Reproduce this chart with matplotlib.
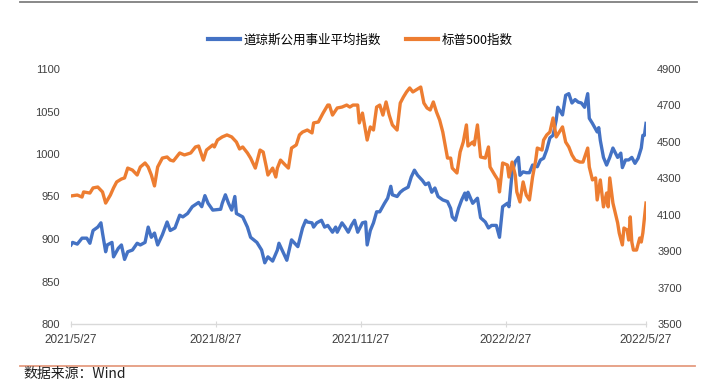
import matplotlib
matplotlib.use("agg")
import matplotlib.pyplot as plt
from matplotlib import font_manager
from matplotlib.lines import Line2D
import pandas as pd

# 道琼斯公用事业平均指数 (left axis)
dji_util_dates = [
    "2021-05-27", "2021-05-28", "2021-05-31", "2021-06-03", "2021-06-06", "2021-06-08",
    "2021-06-10", "2021-06-13", "2021-06-15", "2021-06-16", "2021-06-18", "2021-06-19",
    "2021-06-22", "2021-06-23", "2021-06-26", "2021-06-28", "2021-06-30", "2021-07-02",
    "2021-07-05", "2021-07-08", "2021-07-10", "2021-07-13", "2021-07-15", "2021-07-17",
    "2021-07-19", "2021-07-21", "2021-07-24", "2021-07-27", "2021-07-29", "2021-08-01",
    "2021-08-04", "2021-08-06", "2021-08-09", "2021-08-12", "2021-08-16", "2021-08-18",
    "2021-08-20", "2021-08-22", "2021-08-25", "2021-08-30", "2021-08-31", "2021-09-02",
    "2021-09-04", "2021-09-06", "2021-09-08", "2021-09-09", "2021-09-13", "2021-09-16",
    "2021-09-18", "2021-09-22", "2021-09-25", "2021-09-27", "2021-09-29", "2021-10-02",
    "2021-10-05", "2021-10-06", "2021-10-09", "2021-10-11", "2021-10-14", "2021-10-16",
    "2021-10-18", "2021-10-21", "2021-10-23", "2021-10-24", "2021-10-27", "2021-10-28",
    "2021-10-30", "2021-11-02", "2021-11-04", "2021-11-06", "2021-11-09", "2021-11-11",
    "2021-11-12", "2021-11-15", "2021-11-17", "2021-11-19", "2021-11-21", "2021-11-23",
    "2021-11-25", "2021-11-28", "2021-11-30", "2021-12-01", "2021-12-03", "2021-12-05",
    "2021-12-07", "2021-12-09", "2021-12-12", "2021-12-14", "2021-12-16", "2021-12-17",
    "2021-12-20", "2021-12-22", "2021-12-24", "2021-12-27", "2021-12-29", "2021-12-31",
    "2022-01-02", "2022-01-05", "2022-01-07", "2022-01-09", "2022-01-11", "2022-01-13",
    "2022-01-15", "2022-01-18", "2022-01-21", "2022-01-23", "2022-01-24", "2022-01-26",
    "2022-01-28", "2022-01-30", "2022-02-01", "2022-02-02", "2022-02-03", "2022-02-06",
    "2022-02-07", "2022-02-09", "2022-02-11", "2022-02-14", "2022-02-16", "2022-02-18",
    "2022-02-21", "2022-02-23", "2022-02-25", "2022-02-28", "2022-03-01", "2022-03-03",
    "2022-03-05", "2022-03-07", "2022-03-08", "2022-03-10", "2022-03-12", "2022-03-14",
    "2022-03-16", "2022-03-19", "2022-03-21", "2022-03-23", "2022-03-25", "2022-03-27",
    "2022-03-29", "2022-03-31", "2022-04-01", "2022-04-04", "2022-04-06", "2022-04-08",
    "2022-04-10", "2022-04-12", "2022-04-14", "2022-04-16", "2022-04-18", "2022-04-20",
    "2022-04-21", "2022-04-23", "2022-04-26", "2022-04-27", "2022-04-28", "2022-04-30",
    "2022-05-02", "2022-05-04", "2022-05-06", "2022-05-09", "2022-05-11", "2022-05-12",
    "2022-05-14", "2022-05-16", "2022-05-18", "2022-05-20", "2022-05-22", "2022-05-24",
    "2022-05-25", "2022-05-26", "2022-05-27",
]
dji_util_values = [
    893, 896, 894, 901, 901, 895,
    910, 914, 919, 907, 885, 893,
    896, 879, 889, 893, 876, 885,
    887, 895, 893, 896, 914, 902,
    907, 893, 905, 920, 910, 913,
    928, 926, 930, 938, 943, 938,
    951, 942, 934, 935, 942, 952,
    942, 934, 950, 930, 926, 914,
    902, 896, 887, 872, 879, 874,
    887, 895, 883, 875, 899, 895,
    891, 913, 922, 920, 919, 914,
    919, 922, 914, 916, 908, 914,
    908, 919, 914, 908, 916, 922,
    908, 919, 920, 893, 910, 919,
    932, 932, 942, 948, 962, 952,
    950, 955, 958, 961, 973, 981,
    975, 969, 964, 966, 955, 960,
    950, 946, 944, 936, 926, 922,
    936, 946, 954, 946, 955, 942,
    944, 948, 925, 920, 913, 916,
    916, 902, 938, 942, 938, 978,
    991, 996, 975, 979, 978, 978,
    987, 985, 993, 995, 1005, 1019,
    1022, 1040, 1055, 1046, 1069, 1071,
    1060, 1064, 1061, 1060, 1055, 1071,
    1042, 1036, 1026, 1031, 1016, 996,
    987, 996, 1007, 996, 1001, 984,
    993, 993, 996, 989, 995, 1007,
    1022, 1022, 1036,
]

# 标普500指数 (right axis)
spx_dates = [
    "2021-05-27", "2021-05-31", "2021-06-03", "2021-06-04", "2021-06-08", "2021-06-10",
    "2021-06-13", "2021-06-16", "2021-06-18", "2021-06-21", "2021-06-23", "2021-06-25",
    "2021-06-28", "2021-06-30", "2021-07-02", "2021-07-05", "2021-07-08", "2021-07-10",
    "2021-07-13", "2021-07-15", "2021-07-17", "2021-07-19", "2021-07-21", "2021-07-24",
    "2021-07-27", "2021-07-29", "2021-07-31", "2021-08-02", "2021-08-04", "2021-08-07",
    "2021-08-11", "2021-08-14", "2021-08-16", "2021-08-19", "2021-08-21", "2021-08-25",
    "2021-08-26", "2021-08-28", "2021-08-31", "2021-09-03", "2021-09-06", "2021-09-09",
    "2021-09-11", "2021-09-13", "2021-09-16", "2021-09-18", "2021-09-21", "2021-09-24",
    "2021-09-26", "2021-09-28", "2021-09-29", "2021-10-02", "2021-10-04", "2021-10-05",
    "2021-10-07", "2021-10-10", "2021-10-12", "2021-10-14", "2021-10-17", "2021-10-19",
    "2021-10-21", "2021-10-24", "2021-10-27", "2021-10-28", "2021-10-31", "2021-11-03",
    "2021-11-06", "2021-11-07", "2021-11-09", "2021-11-12", "2021-11-15", "2021-11-18",
    "2021-11-20", "2021-11-22", "2021-11-25", "2021-11-26", "2021-11-28", "2021-12-01",
    "2021-12-03", "2021-12-05", "2021-12-07", "2021-12-09", "2021-12-11", "2021-12-13",
    "2021-12-15", "2021-12-17", "2021-12-20", "2021-12-22", "2021-12-24", "2021-12-26",
    "2021-12-28", "2021-12-30", "2022-01-02", "2022-01-04", "2022-01-06", "2022-01-08",
    "2022-01-10", "2022-01-12", "2022-01-14", "2022-01-16", "2022-01-18", "2022-01-21",
    "2022-01-23", "2022-01-24", "2022-01-27", "2022-01-29", "2022-01-31", "2022-02-02",
    "2022-02-03", "2022-02-06", "2022-02-07", "2022-02-09", "2022-02-11", "2022-02-14",
    "2022-02-16", "2022-02-17", "2022-02-20", "2022-02-22", "2022-02-23", "2022-02-25",
    "2022-02-28", "2022-03-01", "2022-03-03", "2022-03-05", "2022-03-06", "2022-03-08",
    "2022-03-10", "2022-03-12", "2022-03-14", "2022-03-16", "2022-03-18", "2022-03-19",
    "2022-03-22", "2022-03-23", "2022-03-25", "2022-03-27", "2022-03-29", "2022-03-31",
    "2022-04-02", "2022-04-04", "2022-04-06", "2022-04-08", "2022-04-10", "2022-04-12",
    "2022-04-15", "2022-04-17", "2022-04-20", "2022-04-21", "2022-04-23", "2022-04-25",
    "2022-04-26", "2022-04-28", "2022-04-30", "2022-05-02", "2022-05-03", "2022-05-04",
    "2022-05-06", "2022-05-09", "2022-05-10", "2022-05-12", "2022-05-13", "2022-05-15",
    "2022-05-16", "2022-05-17", "2022-05-18", "2022-05-19", "2022-05-21", "2022-05-23",
    "2022-05-24", "2022-05-25", "2022-05-27",
]
spx_values = [
    4203, 4208, 4197, 4225, 4219, 4247,
    4252, 4225, 4164, 4208, 4247, 4280,
    4296, 4302, 4356, 4345, 4318, 4362,
    4384, 4362, 4318, 4258, 4362, 4411,
    4417, 4400, 4395, 4417, 4439, 4428,
    4439, 4472, 4477, 4400, 4455, 4483,
    4472, 4510, 4527, 4538, 4527, 4499,
    4461, 4472, 4439, 4411, 4356, 4455,
    4444, 4362, 4318, 4356, 4307, 4356,
    4400, 4373, 4356, 4466, 4483, 4538,
    4554, 4565, 4549, 4604, 4609, 4658,
    4702, 4702, 4647, 4686, 4691, 4702,
    4691, 4702, 4702, 4604, 4658, 4510,
    4582, 4565, 4691, 4702, 4647, 4719,
    4647, 4593, 4565, 4713, 4746, 4774,
    4796, 4774, 4790, 4801, 4713, 4686,
    4675, 4719, 4664, 4620, 4554, 4411,
    4411, 4356, 4329, 4444, 4499, 4593,
    4477, 4499, 4483, 4593, 4417, 4411,
    4472, 4362, 4318, 4291, 4225, 4384,
    4373, 4307, 4389, 4318, 4225, 4170,
    4280, 4208, 4181, 4307, 4400, 4466,
    4455, 4510, 4538, 4554, 4631, 4527,
    4554, 4582, 4499, 4472, 4428, 4400,
    4389, 4389, 4466, 4362, 4291, 4302,
    4181, 4291, 4143, 4219, 4143, 4302,
    4164, 4055, 4000, 3934, 4027, 4016,
    3961, 4088, 3950, 3906, 3906, 3972,
    3950, 4000, 4164,
]

x_tick_dates = ["2021-05-27", "2021-08-27", "2021-11-27", "2022-02-27", "2022-05-27"]
x_tick_labels = ["2021/5/27", "2021/8/27", "2021/11/27", "2022/2/27", "2022/5/27"]
left_ticks = [800, 850, 900, 950, 1000, 1050, 1100]
right_ticks = [3500, 3700, 3900, 4100, 4300, 4500, 4700, 4900]

series_names = ["道琼斯公用事业平均指数", "标普500指数"]
source_text = "数据来源：Wind"

BLUE = "#4472C4"
ORANGE = "#ED7D31"
TICK_COLOR = "#404040"

installed = {f.name for f in font_manager.fontManager.ttflist}
date_font = "Liberation Sans Narrow" if "Liberation Sans Narrow" in installed else "Liberation Sans"
num_font = "Liberation Sans"
cjk = ["Noto Sans CJK SC", "DejaVu Sans"]

W, H = 709, 381
fig = plt.figure(figsize=(W / 100, H / 100), dpi=100)
ax = fig.add_axes([71 / W, 1 - 324 / H, (646 - 71) / W, (324 - 69) / H])
ax2 = ax.twinx()

d_util = pd.to_datetime(dji_util_dates)
d_spx = pd.to_datetime(spx_dates)
l1, = ax.plot(d_util, dji_util_values, color=BLUE, lw=2.4, solid_joinstyle="round")
l2, = ax2.plot(d_spx, spx_values, color=ORANGE, lw=2.4, solid_joinstyle="round")

ax.set_xlim(pd.Timestamp(x_tick_dates[0]), pd.Timestamp(x_tick_dates[-1]))
ax.set_ylim(left_ticks[0], left_ticks[-1])
ax2.set_ylim(right_ticks[0], right_ticks[-1])

ax.set_xticks(pd.to_datetime(x_tick_dates))
ax.set_xticklabels(x_tick_labels, fontsize=8.5, color=TICK_COLOR, family=date_font)
ax.set_yticks(left_ticks)
ax.set_yticklabels([str(v) for v in left_ticks], fontsize=8, color=TICK_COLOR, family=num_font)
ax2.set_yticks(right_ticks)
ax2.set_yticklabels([str(v) for v in right_ticks], fontsize=8, color=TICK_COLOR, family=num_font)

for a in (ax, ax2):
    for s in ("top", "left", "right"):
        a.spines[s].set_visible(False)
ax2.spines["bottom"].set_visible(False)
ax.spines["bottom"].set_color("#d9d9d9")
ax.spines["bottom"].set_linewidth(1.0)

ax.tick_params(axis="x", direction="inout", length=4, width=0.8, color="#d9d9d9", pad=5)
ax.tick_params(axis="y", length=0, pad=8)
ax2.tick_params(axis="y", length=0, pad=8)

fig.legend([l1, l2], series_names, loc="center", bbox_to_anchor=(360 / W, 1 - 40 / H),
           ncol=2, frameon=False, handlelength=2.6, handletextpad=0.25, columnspacing=2.0,
           prop={"family": cjk, "size": 9})
for h in fig.legends[0].get_lines():
    h.set_linewidth(3)

# header / footer rules and source note
fig.add_artist(Line2D([20 / W, 697 / W], [1 - 1.5 / H] * 2, color="#7f7f7f", lw=1.3))
fig.add_artist(Line2D([20 / W, 695 / W], [1 - 366 / H] * 2, color="#E59C80", lw=1.3))
fig.text(23 / W, 1 - 374 / H, source_text, fontsize=10, family=cjk, color="#202020",
         ha="left", va="center")

fig.savefig("out.png", dpi=100)
plt.close(fig)
